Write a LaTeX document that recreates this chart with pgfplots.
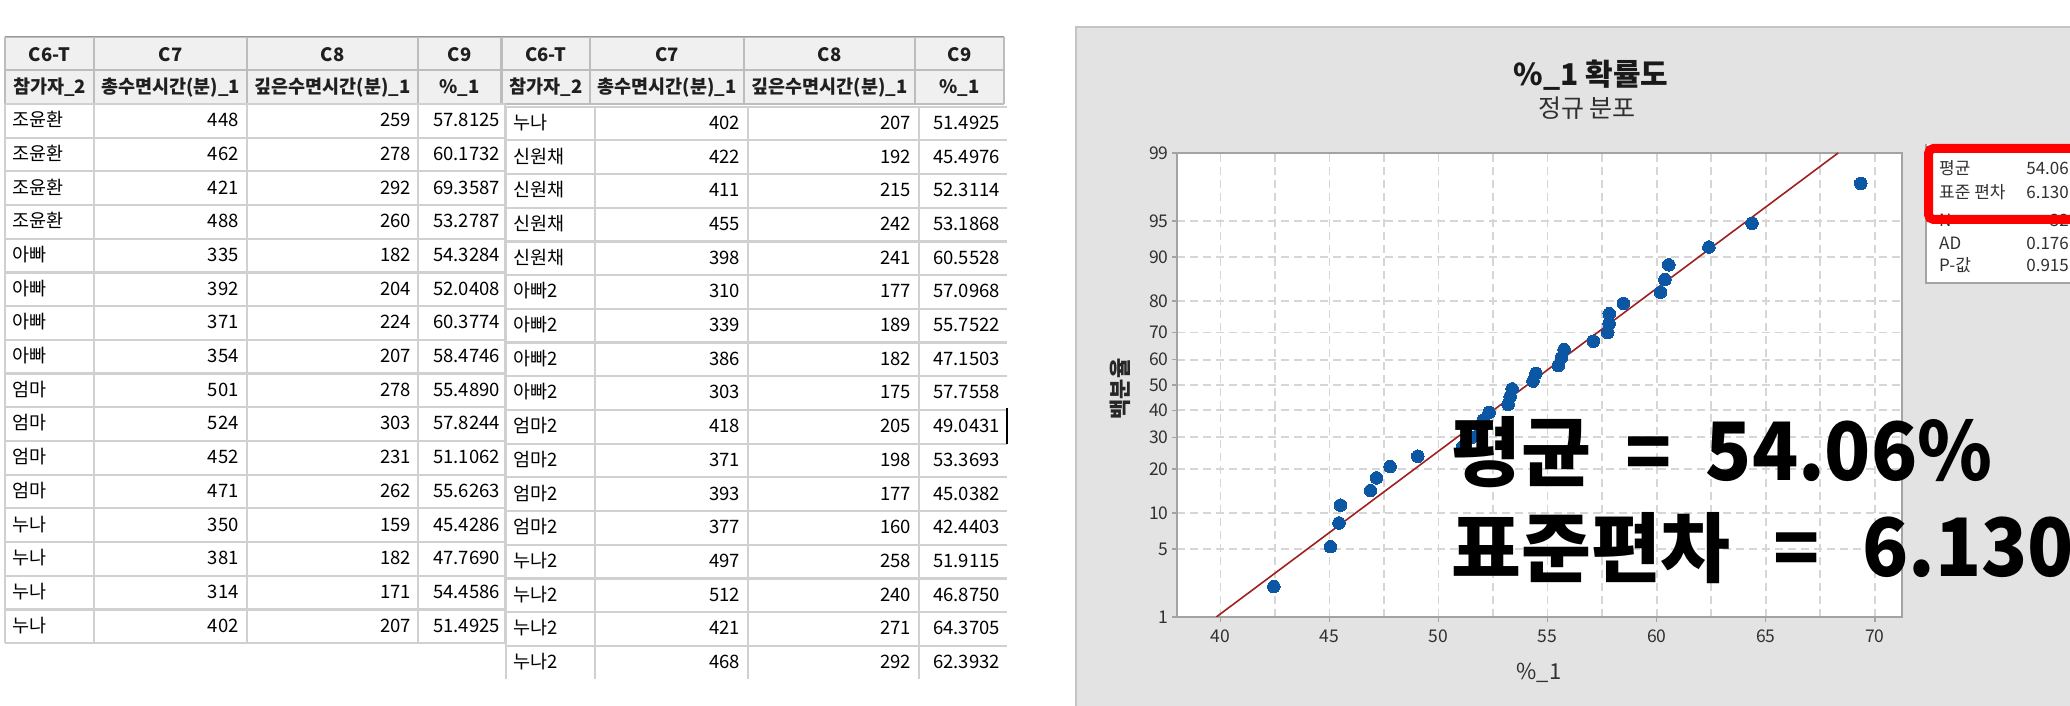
\documentclass[border=0pt]{standalone}
\usepackage{fontspec}
\setmainfont{Noto Sans CJK KR}
\usepackage{graphicx}
\usepackage{pgfplots}
\pgfplotsset{compat=1.18}

\definecolor{panelgray}{HTML}{E3E3E3}
\definecolor{panelborder}{HTML}{C4C4C4}
\definecolor{axisgray}{HTML}{A3A3A3}
\definecolor{gridgray}{HTML}{D6D6D6}
\definecolor{ptblue}{HTML}{0B57A4}
\definecolor{fitred}{RGB}{160,32,32}
\definecolor{hdrfill}{HTML}{F0F0F0}
\definecolor{hdrline}{HTML}{BDBDBD}
\definecolor{cellline}{HTML}{D0D0D0}
\definecolor{ticktext}{HTML}{303030}

\newcommand\fs[1]{\fontsize{#1pt}{#1pt}\selectfont}
\newcommand\tall[1]{\scalebox{1}[1.06]{#1}}

\begin{document}
\begin{tikzpicture}[x=1pt,y=1pt]
\useasboundingbox (0,0) rectangle (2070,706);
\begin{scope}
\clip (0,0) rectangle (2070,706);
\fill[white] (0,0) rectangle (2070,706);

% ---------------- worksheet: header rows ----------------
\fill[hdrfill] (5,602) rectangle (501,669);
\fill[hdrfill] (502,602) rectangle (1004,669);
\foreach \yy in {669,636,602} {
  \draw[hdrline, line width=1.5] (5,\yy) -- (501,\yy);
  \draw[hdrline, line width=1.5] (502,\yy) -- (1004,\yy);
}
\draw[hdrline!80!black, line width=1.5] (5,669.5) -- (1004,669.5);
\foreach \xx in {5,94,247,418,501} \draw[hdrline, line width=1.5] (\xx,602) -- (\xx,669);
\foreach \xx in {502,590,744,915,1004} \draw[hdrline, line width=1.5] (\xx,602) -- (\xx,669);

\begin{scope}[every node/.style={inner sep=0pt, anchor=base, font=\fs{18.5}\bfseries, text=black!88}]
  \node at (49.5,644.3) {C6-T};  \node at (170.5,644.3) {C7};
  \node at (332.5,644.3) {C8};   \node at (459.5,644.3) {C9};
  \node at (49.5,612.7) {참가자\_2};  \node at (170.5,612.7) {총수면시간(분)\_1};
  \node at (332.5,612.7) {깊은수면시간(분)\_1}; \node at (459.5,612.7) {\%\_1};
  \node at (546,644.3) {C6-T};   \node at (667,644.3) {C7};
  \node at (829.5,644.3) {C8};   \node at (959.5,644.3) {C9};
  \node at (546,612.7) {참가자\_2};   \node at (667,612.7) {총수면시간(분)\_1};
  \node at (829.5,612.7) {깊은수면시간(분)\_1}; \node at (959.5,612.7) {\%\_1};
\end{scope}

% ---------------- worksheet: left block of rows ----------------
\foreach \i in {0,...,16} \draw[cellline, line width=2.2] (5,602-33.7*\i) -- (505,602-33.7*\i);
\foreach \xx in {5,94,247,418,505} \draw[cellline, line width=1.4] (\xx,602) -- (\xx,63);
\begin{scope}[every node/.style={inner sep=0pt, font=\fs{18.5}}]
\foreach \n/\a/\b/\c [count=\i from 0] in {
  조윤환/448/259/57.8125, 조윤환/462/278/60.1732, 조윤환/421/292/69.3587,
  조윤환/488/260/53.2787, 아빠/335/182/54.3284, 아빠/392/204/52.0408,
  아빠/371/224/60.3774, 아빠/354/207/58.4746, 엄마/501/278/55.4890,
  엄마/524/303/57.8244, 엄마/452/231/51.1062, 엄마/471/262/55.6263,
  누나/350/159/45.4286, 누나/381/182/47.7690, 누나/314/171/54.4586,
  누나/402/207/51.4925} {
  \pgfmathsetmacro\yb{579.3-33.7*\i}
  \node[anchor=base west] at (12,\yb) {\n};
  \node[anchor=base east] at (239,\yb) {\a};
  \node[anchor=base east] at (411,\yb) {\b};
  \node[anchor=base east] at (500,\yb) {\c};
}
\end{scope}

% ---------------- worksheet: right block of rows ----------------
\foreach \i in {0,...,16} \draw[cellline, line width=2.2] (506,599.3-33.7*\i) -- (1007,599.3-33.7*\i);
\foreach \xx in {506,595,748,919} \draw[cellline, line width=1.4] (\xx,599.3) -- (\xx,27);
\draw[black, line width=2] (1007,298) -- (1007,262);
\begin{scope}[every node/.style={inner sep=0pt, font=\fs{18.5}}]
\foreach \n/\a/\b/\c [count=\i from 0] in {
  누나/402/207/51.4925, 신원채/422/192/45.4976, 신원채/411/215/52.3114,
  신원채/455/242/53.1868, 신원채/398/241/60.5528, 아빠2/310/177/57.0968,
  아빠2/339/189/55.7522, 아빠2/386/182/47.1503, 아빠2/303/175/57.7558,
  엄마2/418/205/49.0431, 엄마2/371/198/53.3693, 엄마2/393/177/45.0382,
  엄마2/377/160/42.4403, 누나2/497/258/51.9115, 누나2/512/240/46.8750,
  누나2/421/271/64.3705, 누나2/468/292/62.3932} {
  \pgfmathsetmacro\yb{576.6-33.7*\i}
  \node[anchor=base west] at (513,\yb) {\n};
  \node[anchor=base east] at (740,\yb) {\a};
  \node[anchor=base east] at (911,\yb) {\b};
  \node[anchor=base east] at (1000,\yb) {\c};
}
\end{scope}

% ---------------- probability plot panel ----------------
\fill[panelgray] (1076,-5) rectangle (2080,679);
\draw[panelborder, line width=1.5] (1076,-5) -- (1076,679) -- (2080,679);

% summary statistics box
\fill[white] (1926,423) rectangle (2090,562);
\draw[axisgray, line width=1.2] (2090,423) -- (1926,423) -- (1926,562);
\begin{scope}[every node/.style={inner sep=0pt, font=\fs{17}, text=ticktext}]
  \node[anchor=west] at (1939,538) {평균};      \node[anchor=east] at (2069,538) {54.06};
  \node[anchor=west] at (1939,514) {표준 편차}; \node[anchor=east] at (2069,514) {6.130};
  \node[anchor=west] at (1939,486) {N};         \node[anchor=east] at (2069,486) {32};
  \node[anchor=west] at (1939,463) {AD};        \node[anchor=east] at (2069,463) {0.176};
  \node[anchor=west] at (1939,441) {P-값};      \node[anchor=east] at (2069,441) {0.915};
\end{scope}
\draw[red, line width=9, rounded corners=5] (1928.5,486.5) rectangle (2110,557.5);

\begin{axis}[
  at={(1177pt,89pt)}, anchor=south west,
  width=725pt, height=464pt, scale only axis,
  xmin=38, xmax=71.25, ymin=-2.3263, ymax=2.3263,
  axis background/.style={fill=white},
  axis line style={draw=axisgray, line width=2pt},
  xtick={40,45,...,70},
  minor xtick={42.5,47.5,...,67.5},
  ytick={-2.3263,-1.6449,-1.2816,-0.8416,-0.5244,-0.2533,0,0.2533,0.5244,0.8416,1.2816,1.6449,2.3263},
  yticklabels={1,5,10,20,30,40,50,60,70,80,90,95,99},
  grid=both,
  major grid style={draw=gridgray, line width=1.6pt, dash pattern=on 8pt off 5pt},
  minor grid style={draw=gridgray, line width=1.6pt, dash pattern=on 8pt off 5pt},
  tick align=outside, major tick length=5pt, minor tick length=0pt,
  tick style={draw=axisgray, line width=1.5pt},
  tick pos=left,
  /pgf/number format/assume math mode=true,
  tick label style={font=\fs{17.5}, text=ticktext},
  xticklabel style={yshift=-4pt},
  clip=true,
]
% fitted normal line: x = 54.06 + 6.130 z
\addplot[fitred, line width=1.6pt] coordinates {(39.80,-2.3263) (68.32,2.3263)};
\addplot[only marks, mark=*, mark size=6.3pt,
  mark options={fill=ptblue, draw=ptblue, line width=0pt}]
  table[row sep=\\] {
  x y \\
  42.4403 -2.021 \\ 45.0382 -1.621 \\ 45.4286 -1.383 \\ 45.4976 -1.205 \\
  46.8750 -1.058 \\ 47.1503 -0.931 \\ 47.7690 -0.818 \\ 49.0431 -0.714 \\
  51.1062 -0.617 \\ 51.4925 -0.526 \\ 51.9115 -0.439 \\ 52.0408 -0.355 \\
  52.3114 -0.274 \\ 53.1868 -0.195 \\ 53.2787 -0.116 \\ 53.3693 -0.039 \\
  54.3284 0.039 \\ 54.4586 0.116 \\ 55.4890 0.195 \\ 55.6263 0.274 \\
  55.7522 0.355 \\ 57.0968 0.439 \\ 57.7558 0.526 \\ 57.8125 0.617 \\
  57.8244 0.714 \\ 58.4746 0.818 \\ 60.1732 0.931 \\ 60.3774 1.058 \\
  60.5528 1.205 \\ 62.3932 1.383 \\ 64.3705 1.621 \\ 69.3587 2.021 \\
  };
\end{axis}

% titles and axis labels
\node[inner sep=0pt, font=\fs{30}\bfseries, text=black!90] at (1591,631) {\%\_1 확률도};
\node[inner sep=0pt, font=\fs{25}, text=ticktext] at (1587,597.5) {정규 분포};
\node[inner sep=0pt, font=\fs{22}, text=ticktext] at (1539,33) {\%\_1};
\node[inner sep=0pt, font=\fs{22}\bfseries, text=black!85, rotate=90] at (1120,317) {백분율};

% overlaid summary
\node[inner sep=0pt, anchor=base west, font=\fs{76}\bfseries] at (1451,225)
  {평균\hspace{0.45em}=\hspace{0.45em}\tall{54.06\%}};
\node[inner sep=0pt, anchor=base west, font=\fs{76}\bfseries] at (1451,129)
  {표준편차\hspace{0.56em}=\hspace{0.56em}\tall{6.130}};
\end{scope}
\end{tikzpicture}
\end{document}
